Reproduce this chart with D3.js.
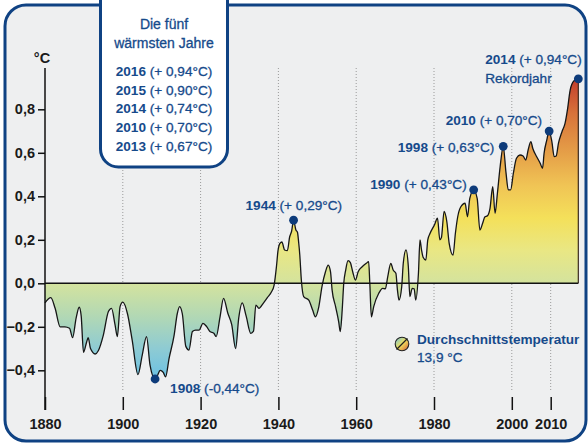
<!DOCTYPE html>
<html>
<head>
<meta charset="utf-8">
<script src="https://cdn.jsdelivr.net/npm/d3@7"></script>
<style>
  html, body { margin: 0; padding: 0; background: #ffffff; }
  svg { display: block; font-family: "Liberation Sans", Arial, Helvetica, sans-serif; }
  .reg { stroke: currentColor; stroke-width: 0.3px; }
</style>
</head>
<body>
<svg id="chart" width="588" height="445"></svg>
<script>
// Global temperature anomaly (°C, relative to the 13.9 °C mean), smoothed series
const years = [
  1880.0, 1881.5, 1882.6, 1883.9, 1885.1, 1886.3, 1887.1, 1888.0, 1888.8, 1889.3,
  1889.9, 1890.7, 1891.1, 1891.7, 1892.9, 1893.7, 1895.0, 1896.3, 1897.1, 1898.0,
  1898.6, 1899.3, 1900.0, 1901.2, 1902.4, 1903.9, 1905.0, 1906.1, 1907.0, 1908.3,
  1908.9, 1909.6, 1910.4, 1911.0, 1911.9, 1913.2, 1914.0, 1914.6, 1915.3, 1916.2,
  1917.0, 1917.9, 1918.7, 1919.6, 1920.6, 1921.6, 1922.4, 1923.4, 1924.0, 1925.0,
  1925.9, 1927.0, 1928.0, 1929.0, 1929.8, 1930.7, 1931.7, 1932.9, 1933.6, 1934.2,
  1935.0, 1936.1, 1937.2, 1938.2, 1938.9, 1939.5, 1939.9, 1940.4, 1940.9, 1941.6,
  1942.3, 1942.9, 1943.4, 1943.9, 1944.5, 1944.9, 1945.2, 1945.5, 1945.9, 1946.5,
  1947.8, 1948.8, 1949.5, 1950.4, 1951.2, 1952.1, 1952.8, 1953.4, 1953.8, 1954.7,
  1955.5, 1955.9, 1956.4, 1956.8, 1957.3, 1957.9, 1958.5, 1959.1, 1959.8, 1960.5,
  1961.6, 1962.6, 1963.2, 1963.5, 1963.9, 1964.5, 1965.8, 1966.8, 1967.5, 1968.1,
  1968.9, 1969.5, 1970.2, 1970.6, 1971.0, 1971.7, 1972.1, 1972.8, 1973.4, 1973.8,
  1974.4, 1974.9, 1975.3, 1976.0, 1976.4, 1976.8, 1977.2, 1977.9, 1978.4, 1979.0,
  1980.1, 1980.9, 1981.5, 1981.9, 1982.6, 1983.3, 1983.9, 1984.9, 1985.5, 1986.1,
  1986.9, 1988.0, 1988.6, 1989.2, 1990.2, 1991.1, 1991.8, 1992.5, 1993.1, 1993.7,
  1994.4, 1995.1, 1995.7, 1996.3, 1997.0, 1997.8, 1998.5, 1999.1, 1999.7, 2000.4,
  2001.2, 2002.1, 2002.9, 2003.6, 2004.2, 2004.9, 2005.4, 2006.4, 2007.3, 2007.9,
  2008.3, 2009.0, 2009.6, 2010.3, 2010.9, 2011.4, 2012.0, 2012.9, 2013.7, 2014.3,
  2015.0, 2016.0, 2017.1
];
const anomalies = [
  -0.09, -0.066, -0.115, -0.20, -0.20, -0.207, -0.25, -0.16, -0.11, -0.15,
  -0.317, -0.27, -0.25, -0.30, -0.325, -0.31, -0.238, -0.13, -0.115, -0.19,
  -0.245, -0.107, -0.087, -0.14, -0.26, -0.42, -0.33, -0.245, -0.376, -0.44,
  -0.425, -0.40, -0.41, -0.43, -0.345, -0.238, -0.14, -0.107, -0.14, -0.29,
  -0.307, -0.222, -0.215, -0.215, -0.184, -0.20, -0.222, -0.23, -0.245, -0.154,
  -0.069, -0.138, -0.19, -0.30, -0.16, -0.09, -0.15, -0.23, -0.22, -0.10,
  -0.115, -0.092, -0.065, -0.04, -0.008, 0.077, 0.15, 0.184, 0.19, 0.153,
  0.15, 0.214, 0.24, 0.29, 0.245, 0.235, 0.19, 0.13, 0.015, -0.061,
  -0.077, -0.123, -0.154, -0.107, -0.015, 0.053, 0.084, 0.053, -0.03, -0.107,
  -0.177, -0.222, -0.123, 0.0, 0.061, 0.104, 0.095, 0.053, 0.015, 0.053,
  0.077, 0.092, 0.10, 0.0, -0.154, -0.107, -0.046, -0.023, -0.025, 0.03,
  0.092, 0.061, 0.046, -0.03, -0.077, -0.015, 0.092, 0.153, 0.077, -0.061,
  -0.023, -0.025, -0.077, 0.046, 0.20, 0.153, 0.12, 0.107, 0.20, 0.23,
  0.268, 0.299, 0.20, 0.21, 0.33, 0.283, 0.184, 0.13, 0.23, 0.306,
  0.352, 0.368, 0.306, 0.39, 0.43, 0.39, 0.245, 0.276, 0.306, 0.31,
  0.345, 0.444, 0.322, 0.414, 0.536, 0.63, 0.51, 0.43, 0.43, 0.506,
  0.575, 0.59, 0.585, 0.567, 0.613, 0.651, 0.62, 0.582, 0.552, 0.529,
  0.598, 0.659, 0.70, 0.651, 0.582, 0.585, 0.644, 0.697, 0.736, 0.797,
  0.888, 0.931, 0.94
];

// Highlighted extremes
const peakLabels = ["1908", "1944", "1990", "1998", "2010", "2014"];
const peakValues = [-0.44, 0.29, 0.43, 0.63, 0.70, 0.94];
const peakAt     = [1908.3, 1943.9, 1990.2, 1997.8, 2009.6, 2017.1];

// Five warmest years
const topYears  = [2016, 2015, 2014, 2010, 2013];
const topValues = [0.94, 0.90, 0.74, 0.70, 0.67];

const xTicks = [1880, 1900, 1920, 1940, 1960, 1980, 2000, 2010];
const yTicks = [-0.4, -0.2, 0.0, 0.2, 0.4, 0.6, 0.8];
const meanTemperature = 13.9;

// ---- styling ----
const BLUE = "#164a8b";
const FRAME = "#0f4283";
const DOT = "#0d3b7a";
const comma = v => d3.format(".1f")(v).replace(".", ",");
const comma2 = v => d3.format(".2f")(Math.abs(v)).replace(".", ",");
const signed = v => v < 0 ? "-" + comma2(v) : "+ " + comma2(v);

const svg = d3.select("#chart");

const x = d3.scaleLinear().domain([1880, 2010]).range([45, 550.7]);
const y = d3.scaleLinear().domain([0, 0.8]).range([283.3, 109.3]);

// Frame
svg.append("rect")
  .attr("x", 5).attr("y", 5).attr("width", 581).attr("height", 436)
  .attr("rx", 21)
  .attr("fill", "#eeeff0").attr("stroke", FRAME).attr("stroke-width", 3);

// Gradient for the anomaly area (by value)
const defs = svg.append("defs");
const grad = defs.append("linearGradient")
  .attr("id", "tempGrad").attr("gradientUnits", "userSpaceOnUse")
  .attr("x1", 0).attr("x2", 0).attr("y1", y(-0.46)).attr("y2", y(0.95));
[
  [-0.46, "#66bfe6"], [-0.30, "#8ecbd3"], [-0.15, "#b2d8b4"], [0.0, "#d4e39e"],
  [0.15, "#e9e784"], [0.30, "#f4e05a"], [0.45, "#f0c455"], [0.60, "#e59f48"],
  [0.78, "#d8733a"], [0.95, "#c13a2b"]
].forEach(([v, c]) => {
  grad.append("stop")
    .attr("offset", (y(v) - y(-0.46)) / (y(0.95) - y(-0.46)))
    .attr("stop-color", c);
});

const iconGrad = defs.append("linearGradient")
  .attr("id", "iconGrad").attr("x1", 0).attr("y1", 0).attr("x2", 1).attr("y2", 1);
iconGrad.append("stop").attr("offset", 0).attr("stop-color", "#6cc3e6");
iconGrad.append("stop").attr("offset", 0.5).attr("stop-color", "#f1e05c");
iconGrad.append("stop").attr("offset", 1).attr("stop-color", "#d4553a");

// Dotted year grid
const gridTop = 68, gridBottom = 392;
svg.append("g").selectAll("line")
  .data(xTicks.filter(d => d !== 1880))
  .join("line")
  .attr("x1", d => x(d)).attr("x2", d => x(d))
  .attr("y1", gridTop).attr("y2", gridBottom)
  .attr("stroke", "#9a9a9a").attr("stroke-width", 1)
  .attr("stroke-dasharray", "1,2");

// Area and line
const series = years.map((yr, i) => ({ year: yr, value: anomalies[i] }));
const area = d3.area()
  .x(d => x(d.year)).y0(y(0)).y1(d => y(d.value))
  .curve(d3.curveMonotoneX);
const line = d3.line()
  .x(d => x(d.year)).y(d => y(d.value))
  .curve(d3.curveMonotoneX);

svg.append("path").datum(series)
  .attr("d", area).attr("fill", "url(#tempGrad)");
svg.append("path").datum(series)
  .attr("d", line).attr("fill", "none")
  .attr("stroke", "#161616").attr("stroke-width", 1.3)
  .attr("stroke-linejoin", "round");

// Right edge of the area
const last = series[series.length - 1];
svg.append("line")
  .attr("x1", x(last.year)).attr("x2", x(last.year))
  .attr("y1", y(last.value)).attr("y2", y(0))
  .attr("stroke", "#3a2a20").attr("stroke-width", 1.2);

// Zero line
svg.append("line")
  .attr("x1", x(1880)).attr("x2", x(last.year))
  .attr("y1", y(0)).attr("y2", y(0))
  .attr("stroke", "#111").attr("stroke-width", 1.6);

// Y axis
svg.append("line")
  .attr("x1", x(1880)).attr("x2", x(1880))
  .attr("y1", gridTop).attr("y2", 410)
  .attr("stroke", "#111").attr("stroke-width", 1.5);

const yAxis = svg.append("g")
  .attr("transform", `translate(${x(1880)},0)`)
  .call(d3.axisLeft(y).tickValues(yTicks).tickFormat(comma).tickSize(7).tickPadding(3));
yAxis.select(".domain").remove();
yAxis.selectAll(".tick line").attr("stroke", "#111").attr("stroke-width", 1.5);
yAxis.selectAll(".tick text")
  .attr("font-size", 14.5).attr("font-weight", "bold").attr("fill", "#1a1a1a")
  .attr("font-family", "Liberation Sans, Arial, sans-serif");

svg.append("text")
  .attr("x", 42).attr("y", 63).attr("text-anchor", "middle")
  .attr("font-size", 14.5).attr("font-weight", "bold").attr("fill", "#1a1a1a")
  .text("°C");

// X axis (ticks only)
const xAxis = svg.append("g")
  .attr("transform", "translate(0,397)")
  .call(d3.axisBottom(x).tickValues(xTicks).tickFormat(d3.format("d")).tickSize(13).tickPadding(9));
xAxis.select(".domain").remove();
xAxis.selectAll(".tick line").attr("stroke", "#111").attr("stroke-width", 1.5);
xAxis.selectAll(".tick text")
  .attr("font-size", 14.5).attr("font-weight", "bold").attr("fill", "#1a1a1a")
  .attr("font-family", "Liberation Sans, Arial, sans-serif");

// Highlighted points
svg.append("g").selectAll("circle")
  .data(peakValues)
  .join("circle")
  .attr("cx", (d, i) => x(peakAt[i]))
  .attr("cy", d => y(d))
  .attr("r", 4.4)
  .attr("fill", DOT);

// Annotation placement relative to each point
const labelLayout = [
  { anchor: "start", dx: 15,  dy: 14 },
  { anchor: "start", dx: -48, dy: -10 },
  { anchor: "end",   dx: -7,  dy: -0.5 },
  { anchor: "end",   dx: -9,  dy: 5.4 },
  { anchor: "end",   dx: -7,  dy: -6 },
  { anchor: "end",   dx: 3.4, dy: -15 }
];
const notes = svg.append("g").attr("font-size", 13.6).attr("fill", BLUE).style("color", BLUE);
peakLabels.forEach((lab, i) => {
  const L = labelLayout[i];
  const t = notes.append("text")
    .attr("x", x(peakAt[i]) + L.dx)
    .attr("y", y(peakValues[i]) + L.dy)
    .attr("text-anchor", L.anchor);
  t.append("tspan").attr("font-weight", "bold").text(lab);
  t.append("tspan").attr("class", "reg").text(" (" + signed(peakValues[i]) + "°C)");
  if (i === peakLabels.length - 1) {
    const bb = t.node().getBBox();
    notes.append("text").attr("class", "reg")
      .attr("x", bb.x).attr("y", y(peakValues[i]) + L.dy + 18.7)
      .text("Rekordjahr");
  }
});

// Mean temperature key
const key = svg.append("g").attr("transform", "translate(402,344)");
key.append("circle").attr("r", 6.8)
  .attr("fill", "url(#iconGrad)").attr("stroke", "#222").attr("stroke-width", 1.1);
key.append("line")
  .attr("x1", -5.5).attr("y1", 5.5).attr("x2", 5.5).attr("y2", -5.5)
  .attr("stroke", "#222").attr("stroke-width", 1.3);
svg.append("text")
  .attr("x", 417).attr("y", 343.5)
  .attr("font-size", 13.6).attr("font-weight", "bold").attr("fill", BLUE)
  .text("Durchschnittstemperatur");
svg.append("text").attr("class", "reg").style("color", BLUE)
  .attr("x", 417).attr("y", 362)
  .attr("font-size", 13.6).attr("fill", BLUE)
  .text(comma(meanTemperature) + " °C");

// Box listing the five warmest years
const box = svg.append("g").style("color", BLUE);
box.append("rect")
  .attr("x", 100.5).attr("y", -20).attr("width", 127).attr("height", 187)
  .attr("rx", 18)
  .attr("fill", "#ffffff").attr("stroke", FRAME).attr("stroke-width", 3);
box.append("text").attr("class", "reg")
  .attr("x", 164).attr("y", 29).attr("text-anchor", "middle")
  .attr("font-size", 14).attr("fill", BLUE).text("Die fünf");
box.append("text").attr("class", "reg")
  .attr("x", 164).attr("y", 48).attr("text-anchor", "middle")
  .attr("font-size", 14).attr("fill", BLUE).text("wärmsten Jahre");
topYears.forEach((yr, i) => {
  const t = box.append("text")
    .attr("x", 164).attr("y", 76 + i * 18.7).attr("text-anchor", "middle")
    .attr("font-size", 13.6).attr("fill", BLUE);
  t.append("tspan").attr("font-weight", "bold").text(yr);
  t.append("tspan").attr("class", "reg").text(" (" + signed(topValues[i]) + "°C)");
});
</script>
</body>
</html>
